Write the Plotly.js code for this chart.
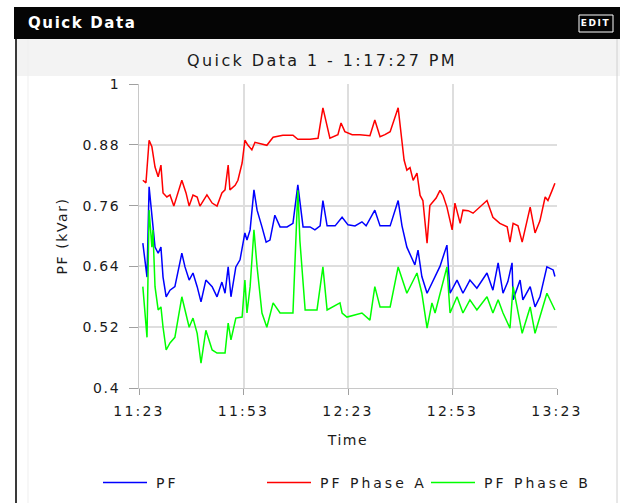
<!DOCTYPE html>
<html>
<head>
<meta charset="utf-8">
<script src="https://cdn.plot.ly/plotly-3.0.1.min.js"></script>
<style>
  html, body { margin: 0; padding: 0; background: #ffffff; }
  #chart { width: 620px; height: 503px; }
  #chart text { letter-spacing: 1.6px; }
  #chart .xtick text { letter-spacing: 2.2px; }
  #chart .gtitle { letter-spacing: 2.4px; }
  #chart .legendtext { letter-spacing: 3px; transform: translate(4px, 0px); }
  #chart .annotation-text { letter-spacing: 1.6px; }
</style>
</head>
<body>
<div id="chart"></div>
<script>
// ---- Data (minutes after 11:23) ----
const startClock = "11:23:00";
const tickLabels = ["11:23", "11:53", "12:23", "12:53", "13:23"];
const yTickVals = [0.4, 0.52, 0.64, 0.76, 0.88, 1];
const yTickText = ["0.4", "0.52", "0.64", "0.76", "0.88", "1"];
const seriesNames = ["PF", "PF Phase A", "PF Phase B"];

const minutesPF = [1.1,1.7,2.3,2.9,3.7,4.6,5.5,6.3,6.9,7.8,
  8.9,10.3,12.3,13.2,14.4,15.5,16.7,17.8,19.2,21.0,
  22.4,23.8,24.7,25.6,26.4,27.8,29.0,30.4,31.0,31.9,
  33.0,33.9,35.3,36.5,37.6,39.0,40.5,42.5,44.2,45.6,
  47.1,49.1,50.5,52.0,52.8,54.0,56.3,58.3,60.0,62.0,
  64.0,65.2,67.7,69.2,72.1,74.4,75.5,76.9,78.4,79.2,
  80.1,81.2,82.7,84.4,86.4,88.4,89.3,91.3,93.0,95.0,
  97.0,99.9,101.6,103.1,104.5,105.9,107.1,107.4,109.4,110.2,
  112.3,113.7,115.1,117.1,118.9,119.4];
const valuesPF = [0.686,0.649,0.619,0.797,0.737,0.678,0.666,0.678,0.619,0.58,
  0.593,0.6,0.666,0.639,0.613,0.627,0.6,0.57,0.613,0.6,
  0.58,0.609,0.587,0.639,0.58,0.639,0.653,0.706,0.692,0.712,
  0.791,0.751,0.718,0.688,0.692,0.741,0.718,0.718,0.725,0.801,
  0.718,0.718,0.712,0.72,0.77,0.72,0.72,0.737,0.722,0.72,
  0.728,0.72,0.751,0.72,0.72,0.77,0.72,0.678,0.655,0.643,
  0.672,0.62,0.587,0.613,0.64,0.682,0.587,0.613,0.587,0.613,
  0.597,0.627,0.593,0.647,0.587,0.61,0.647,0.574,0.613,0.574,
  0.6,0.56,0.58,0.639,0.633,0.62];

const minutesA = [1.1,2.0,2.9,3.7,4.6,5.5,6.3,6.9,8.0,8.9,
  10.0,12.3,13.5,14.4,15.5,16.7,17.5,19.5,21.0,22.4,
  23.8,24.7,25.6,26.1,27.6,28.4,29.6,30.4,31.3,32.4,
  33.3,34.7,36.7,38.5,41.3,44.2,45.6,49.1,51.4,52.8,
  54.8,57.1,58.0,59.1,61.2,63.4,66.3,67.7,69.2,70.6,
  72.1,74.4,75.5,76.1,76.9,77.8,78.7,79.8,80.7,81.5,
  82.7,83.5,84.1,85.3,86.4,87.3,88.4,89.9,90.7,92.2,
  93.0,94.5,95.9,97.9,99.9,101.6,103.6,105.7,106.5,107.4,
  108.8,110.0,111.1,112.3,113.7,115.1,116.6,117.4,118.6,119.4];
const valuesA = [0.81,0.805,0.889,0.876,0.836,0.817,0.84,0.785,0.777,0.781,
  0.759,0.81,0.785,0.759,0.781,0.777,0.759,0.781,0.765,0.759,
  0.785,0.791,0.84,0.791,0.80,0.81,0.844,0.889,0.879,0.87,
  0.885,0.883,0.879,0.895,0.899,0.899,0.891,0.891,0.893,0.953,
  0.893,0.900,0.923,0.906,0.900,0.900,0.898,0.929,0.896,0.900,
  0.906,0.953,0.89,0.85,0.83,0.835,0.81,0.824,0.78,0.77,
  0.686,0.76,0.765,0.775,0.79,0.78,0.757,0.712,0.765,0.725,
  0.751,0.75,0.745,0.757,0.77,0.737,0.725,0.718,0.688,0.725,
  0.72,0.688,0.72,0.757,0.706,0.73,0.777,0.77,0.79,0.804];

const minutesB = [1.1,1.7,2.3,2.9,3.7,4.0,4.6,5.5,6.3,6.9,
  7.8,8.9,10.3,12.3,13.5,14.4,15.5,16.7,17.8,19.2,
  21.0,22.4,24.7,25.6,26.4,27.8,29.6,30.4,31.0,31.9,
  33.0,33.9,35.3,36.7,38.5,40.5,44.2,45.6,46.2,47.7,
  51.1,52.8,54.0,57.7,58.3,59.7,64.0,66.3,67.7,69.2,
  72.1,74.4,76.9,79.8,81.2,82.7,84.1,85.0,88.4,89.3,
  91.3,93.0,95.0,97.0,99.9,101.6,103.1,104.5,106.5,107.4,
  110.0,112.3,113.7,115.1,117.1,119.4];
const valuesB = [0.6,0.548,0.5,0.751,0.678,0.712,0.6,0.554,0.56,0.52,
  0.475,0.489,0.5,0.58,0.548,0.52,0.538,0.508,0.449,0.514,
  0.475,0.469,0.469,0.528,0.495,0.538,0.54,0.613,0.548,0.6,
  0.712,0.639,0.548,0.52,0.568,0.548,0.548,0.79,0.69,0.554,
  0.554,0.639,0.554,0.568,0.548,0.54,0.548,0.534,0.6,0.56,
  0.56,0.639,0.587,0.627,0.587,0.518,0.568,0.548,0.639,0.548,
  0.58,0.548,0.574,0.554,0.58,0.548,0.574,0.548,0.518,0.6,
  0.508,0.56,0.508,0.54,0.587,0.554];

// ---- helpers ----
const day = "2024-01-01 ";
function clockToSec(c) {
  const p = c.split(":").map(Number);
  return p[0] * 3600 + p[1] * 60 + (p[2] || 0);
}
function pad(n) { return (n < 10 ? "0" : "") + n; }
function secToDate(s) {
  s = Math.round(s);
  const h = Math.floor(s / 3600), m = Math.floor((s % 3600) / 60), ss = s % 60;
  return day + pad(h) + ":" + pad(m) + ":" + pad(ss);
}
const t0 = clockToSec(startClock);
const toDates = mins => mins.map(m => secToDate(t0 + m * 60));
const tickDates = tickLabels.map(l => secToDate(clockToSec(l + ":00")));

// layout geometry (pixels -> paper / container)
const W = 620, H = 503;
const L = 139, R = 557, T = 84, B = 388;
const px = x => (x - L) / (R - L);
const py = y => (B - y) / (B - T);

const FONT = "DejaVu Sans, Verdana, sans-serif";
const TXT = "#1a1a1a";

const traces = [
  { x: toDates(minutesPF), y: valuesPF, name: seriesNames[0], type: "scatter", mode: "lines",
    line: { color: "#0000ff", width: 1.5 } },
  { x: toDates(minutesA), y: valuesA, name: seriesNames[1], type: "scatter", mode: "lines",
    line: { color: "#ff0000", width: 1.5 } },
  { x: toDates(minutesB), y: valuesB, name: seriesNames[2], type: "scatter", mode: "lines",
    line: { color: "#00ff00", width: 1.5 } }
];

const layout = {
  width: W, height: H,
  margin: { l: L, r: W - R, t: T, b: H - B, pad: 0, autoexpand: false },
  paper_bgcolor: "#ffffff",
  plot_bgcolor: "#ffffff",
  font: { family: FONT, size: 14, color: TXT },
  showlegend: true,
  title: {
    text: "Quick Data 1 - 1:17:27 PM",
    font: { family: FONT, size: 16, color: TXT },
    x: 322 / W, xanchor: "center", xref: "container",
    y: 1 - 60 / H, yanchor: "middle", yref: "container"
  },
  xaxis: {
    type: "date",
    range: [tickDates[0], tickDates[tickDates.length - 1]],
    tickvals: tickDates, ticktext: tickLabels,
    showgrid: true, gridcolor: "#dedede", gridwidth: 2,
    zeroline: false, showline: true, linecolor: "#c8c8c8", linewidth: 1,
    ticks: "outside", ticklen: 6, tickcolor: "#a0a0a0", tickwidth: 1,
    ticklabelstandoff: 4,
    tickfont: { family: FONT, size: 14, color: TXT },
    title: { text: "Time", font: { family: FONT, size: 14, color: TXT }, standoff: 17 },
    automargin: false, fixedrange: true
  },
  yaxis: {
    range: [0.4, 1],
    tickvals: yTickVals, ticktext: yTickText,
    showgrid: true, gridcolor: "#dedede", gridwidth: 2,
    zeroline: false, showline: true, linecolor: "#c8c8c8", linewidth: 1,
    ticks: "outside", ticklen: 9, tickcolor: "#a0a0a0", tickwidth: 1,
    ticklabelstandoff: 6,
    tickfont: { family: FONT, size: 14, color: TXT },
    title: { text: "PF (kVar)", font: { family: FONT, size: 14, color: TXT }, standoff: 18 },
    automargin: false, fixedrange: true
  },
  legend: {
    orientation: "h",
    xref: "paper", yref: "paper",
    x: px(98), xanchor: "left",
    y: py(467), yanchor: "top",
    entrywidth: 105, entrywidthmode: "pixels",
    itemwidth: 44,
    font: { family: FONT, size: 14, color: TXT },
    bgcolor: "rgba(0,0,0,0)", borderwidth: 0,
    traceorder: "normal"
  },
  shapes: [
    // light band under the header
    { type: "rect", xref: "paper", yref: "paper", layer: "below",
      x0: px(16), x1: px(620), y0: py(39), y1: py(76),
      fillcolor: "#f3f3f3", line: { width: 0 } },
    // black header bar
    { type: "rect", xref: "paper", yref: "paper", layer: "above",
      x0: px(14), x1: px(620), y0: py(7), y1: py(39),
      fillcolor: "#050505", line: { width: 0 } },
    // left panel border
    { type: "line", xref: "paper", yref: "paper", layer: "above",
      x0: px(16), x1: px(16), y0: py(39), y1: py(503),
      line: { color: "#3a3a3a", width: 2 } },
    // faint inner left line
    { type: "line", xref: "paper", yref: "paper", layer: "below",
      x0: px(28), x1: px(28), y0: py(39), y1: py(503),
      line: { color: "#efefef", width: 1 } },
    // right panel border
    { type: "line", xref: "paper", yref: "paper", layer: "above",
      x0: px(617), x1: px(617), y0: py(39), y1: py(503),
      line: { color: "#d0d0d0", width: 1 } },
    // EDIT box outline
    { type: "rect", xref: "paper", yref: "paper", layer: "above",
      x0: px(579), x1: px(613), y0: py(15), y1: py(32),
      fillcolor: "rgba(0,0,0,0)", line: { color: "#ffffff", width: 1 } }
  ],
  annotations: [
    { text: "<b>Quick Data</b>", xref: "paper", yref: "paper",
      x: px(82), xanchor: "center", y: py(23), yanchor: "middle",
      showarrow: false, font: { family: FONT, size: 15, color: "#ffffff" } },
    { text: "<b>EDIT</b>", xref: "paper", yref: "paper",
      x: px(596), xanchor: "center", y: py(23.5), yanchor: "middle",
      showarrow: false, font: { family: FONT, size: 9, color: "#ffffff" } }
  ]
};

Plotly.newPlot("chart", traces, layout, { staticPlot: true, displayModeBar: false });
</script>
</body>
</html>
